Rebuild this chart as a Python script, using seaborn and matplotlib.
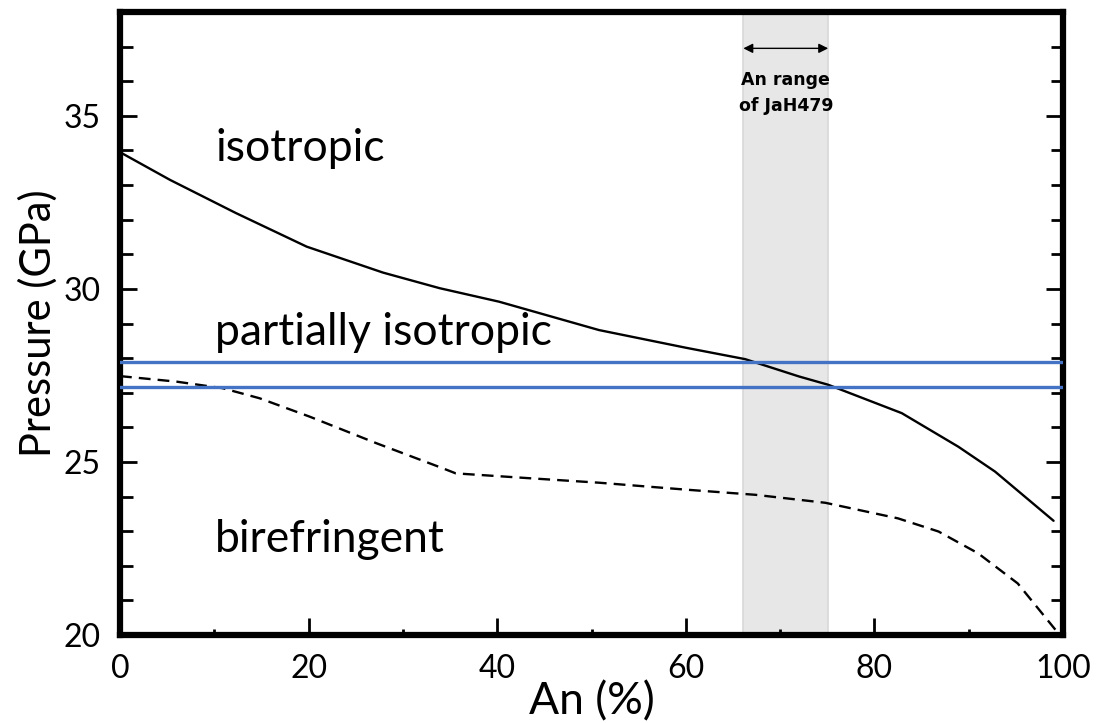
import numpy as np
import pandas as pd
import matplotlib
matplotlib.use("Agg")
import matplotlib.pyplot as plt
import seaborn as sns

# Data
an_solid = [0, 5.3, 12.3, 19.8, 27.9, 33.9, 40.2, 50.8, 60, 66.3, 72, 75.1, 82.9, 88.9, 92.8, 99]
p_solid = [33.95, 33.15, 32.19, 31.22, 30.47, 30.02, 29.63, 28.81, 28.3, 27.97, 27.47, 27.23, 26.41, 25.44, 24.72, 23.3]

an_dash = [0, 6, 10.9, 14.8, 20.1, 27.2, 34.2, 35.6, 43.4, 50.8, 60, 67.4, 74.8, 82.5, 86.8, 91, 95.2, 99.5]
p_dash = [27.48, 27.32, 27.13, 26.84, 26.31, 25.54, 24.82, 24.67, 24.53, 24.4, 24.2, 24.05, 23.82, 23.37, 22.99, 22.36, 21.49, 20.05]

p_bounds = [27.9, 27.17]
an_range = [66.1, 75.1]

x_ticks = [0, 20, 40, 60, 80, 100]
y_ticks = [20, 25, 30, 35]

region_labels = ["isotropic", "partially isotropic", "birefringent"]
region_y = [34.05, 28.75, 22.75]

sns.set_theme(style="ticks")
plt.rcParams['font.family'] = ['Lato', 'DejaVu Sans']
plt.rcParams['text.color'] = 'black'
plt.rcParams['axes.labelcolor'] = 'black'
plt.rcParams['xtick.color'] = 'black'
plt.rcParams['ytick.color'] = 'black'

fig = plt.figure(figsize=(10.98, 7.23), dpi=100)
ax = fig.add_axes([120/1098, 1-635/723, (1063-120)/1098, (635-12)/723])

ax.axvspan(an_range[0], an_range[1], facecolor="#e7e7e7", edgecolor="#d8d8d8", lw=1.2, zorder=0)

df_s = pd.DataFrame({"An": an_solid, "P": p_solid})
df_d = pd.DataFrame({"An": an_dash, "P": p_dash})
sns.lineplot(data=df_s, x="An", y="P", ax=ax, color="black", lw=1.7, sort=False, zorder=3)
sns.lineplot(data=df_d, x="An", y="P", ax=ax, color="black", lw=1.7, sort=False,
             linestyle=(0, (5, 3)), zorder=3)

for p in p_bounds:
    ax.axhline(p, color="#4472C4", lw=2.4, zorder=4)

ax.set_xlim(0, 100)
ax.set_ylim(20, 38)
ax.set_xticks(x_ticks)
ax.set_yticks(y_ticks)
ax.set_xticks(np.arange(0, 101, 10), minor=True)
ax.set_yticks(np.arange(20, 38, 1), minor=True)

for s in ax.spines.values():
    s.set_linewidth(4.5)
    s.set_color("black")

ax.tick_params(axis="y", which="major", direction="in", length=12, width=2, left=True, right=True,
               labelsize=23, pad=14)
ax.tick_params(axis="y", which="minor", direction="in", length=9, width=2, left=True, right=True)
ax.tick_params(axis="x", which="major", direction="in", length=12, width=2, top=False,
               labelsize=23, pad=14)
ax.tick_params(axis="x", which="minor", direction="in", length=4, width=2, top=False)

ax.set_xlabel("An (%)", fontsize=32, labelpad=-2)
ax.set_ylabel("Pressure (GPa)", fontsize=30, labelpad=4)

for lab, yv in zip(region_labels, region_y):
    ax.text(10.1, yv, lab, fontsize=32, va="center", ha="left", color="black", zorder=5)

ax.annotate("", xy=(an_range[0], 36.95), xytext=(an_range[1], 36.95),
            arrowprops=dict(arrowstyle="<|-|>", color="black", lw=1, mutation_scale=14,
                            shrinkA=0, shrinkB=0), zorder=5)
ax.text(sum(an_range)/2, 36.3, "An range\nof JaH479", ha="center", va="top", fontsize=12.5,
        fontweight="bold", family=["Liberation Sans Narrow", "DejaVu Sans"], linespacing=1.6,
        color="black", zorder=5)

fig.savefig("out.png", dpi=100)
